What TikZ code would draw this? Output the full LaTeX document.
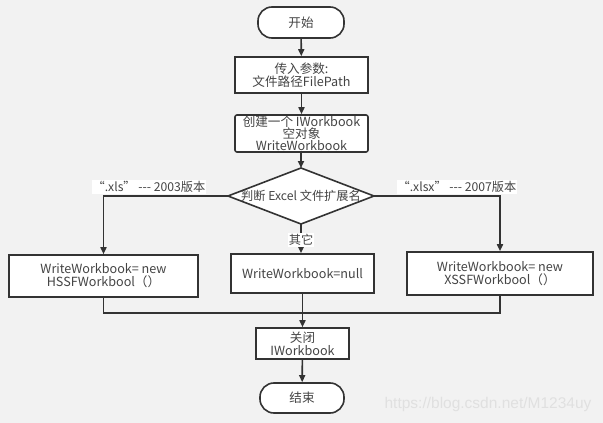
\documentclass[tikz,border=0pt]{standalone}
\usepackage{fontspec}
\setmainfont[Ligatures=NoCommon]{Noto Sans CJK SC}
\newfontfamily\wmfont{Liberation Sans}
\usetikzlibrary{arrows.meta,calc}
\definecolor{bg}{HTML}{F2F2F2}
\definecolor{ln}{HTML}{333333}
\definecolor{tx}{HTML}{444444}
\definecolor{wm}{HTML}{E0E0E0}
\tikzset{
  x=1pt, y=-1pt,
  base/.style={draw=ln, line width=1.6pt, fill=white, inner sep=0pt, align=center,
    text=tx, font=\fontsize{12.6}{13}\selectfont},
  term/.style={base, rounded corners=14pt},
  proc/.style={base},
  lbl/.style={fill=white, inner sep=1pt, text=tx, font=\fontsize{12.2}{12.5}\selectfont},
  conn/.style={draw=ln, line width=1.6pt},
  arr/.style={conn, -{Triangle[length=7pt,width=6pt]}},
}
\begin{document}
\begin{tikzpicture}
\fill[bg] (0,0) rectangle (603,423);
\useasboundingbox (0,0) rectangle (603,423);

\node[term, minimum width=86pt, minimum height=31pt] (start) at (301,22.5) {开始};
\node[proc, minimum width=133pt, minimum height=36pt] (param) at (301.5,75) {传入参数:\\文件路径FilePath};
\node[proc, rounded corners=2pt, minimum width=133pt, minimum height=37pt] (create) at (301.5,133.5) {创建一个 IWorkbook\\[-1pt]空对象\\[-1pt]WriteWorkbook};

% decision diamond
\coordinate (dc) at (301,196);
\coordinate (dt) at (301,168);
\coordinate (db) at (301,224);
\coordinate (dl) at (228,196);
\coordinate (dr) at (374,196);
\filldraw[conn, fill=white] (dt) -- (dr) -- (db) -- (dl) -- cycle;
\node[text=tx, font=\fontsize{12.2}{12.5}\selectfont, inner sep=0pt] (dec) at (dc) {判断 Excel 文件扩展名};

\node[proc, minimum width=189pt, minimum height=42pt] (hssf) at (103.5,276) {WriteWorkbook= new\\HSSFWorkbool（）};
\node[proc, minimum width=143pt, minimum height=39pt] (null) at (302.5,273.5) {WriteWorkbook=null};
\node[proc, minimum width=186pt, minimum height=43pt] (xssf) at (500,273.5) {WriteWorkbook= new\\XSSFWorkbool（）};

\node[proc, minimum width=93pt, minimum height=31pt] (close) at (302.5,343.5) {关闭\\IWorkbook};
\node[term, minimum width=84pt, minimum height=30pt] (end) at (302,398) {结束};

% connectors
\draw[arr] (start) -- (param);
\draw[arr] (param) -- (create);
\draw[arr] (create.south -| dt) -- (dt);
\draw[arr] (db) -- (null.north -| db);
\draw[arr] (dl) -| (hssf.north);
\draw[arr] (dr) -| (xssf.north);

\coordinate (merge) at (302,313);
\draw[conn] (hssf.south) |- (merge) -| (xssf.south);
\draw[arr] (null.south) -- (close.north);
\draw[arr] (close) -- (end);

% labels
\node[lbl] (l1) at (149,187) {“.xls” -{}-{}- 2003版本};
\node[lbl] (l2) at (457,187) {“.xlsx” -{}-{}- 2007版本};
\node[lbl] (l3) at (301,240) {其它};

% watermark
\node[text=wm, font=\wmfont\fontsize{15.5}{16}\selectfont, inner sep=0pt] (wmark) at (488,404) {https://blog.csdn.net/M1234uy};
\end{tikzpicture}
\end{document}
